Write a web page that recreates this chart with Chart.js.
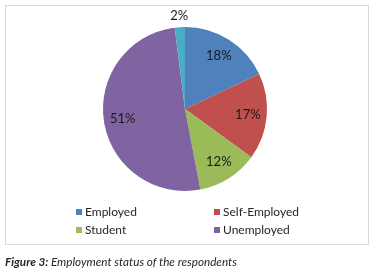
<!DOCTYPE html>
<html>
<head>
<meta charset="utf-8">
<script src="https://cdn.jsdelivr.net/npm/chart.js@4.4.0/dist/chart.umd.min.js"></script>
<style>
  html, body { margin: 0; padding: 0; background: #fff; }
  body { width: 374px; height: 270px; position: relative; overflow: hidden; font-family: Lato, "Open Sans", sans-serif; }
  #frame { position: absolute; left: 5px; top: 5px; width: 362px; height: 238px; border: 1px solid #d9d9d9; }
  #pie { position: absolute; left: 0; top: 0; }
  .leg { position: absolute; font-size: 12px; color: #262626; line-height: 14px; white-space: nowrap; }
  .leg i { display: inline-block; width: 6px; height: 6px; margin-right: 3px; vertical-align: 1px; }
  #caption { position: absolute; left: 5px; top: 254px; font-size: 11.7px; font-style: italic; color: #262626; white-space: nowrap; }
</style>
</head>
<body>
<div id="frame"></div>
<canvas id="pie" width="374" height="270"></canvas>
<div id="legend"></div>
<div id="caption"><b>Figure 3:</b> Employment status of the respondents</div>
<script>
// Data
const categories = ['Employed', 'Self-Employed', 'Student', 'Unemployed', ''];
const values = [18, 17, 12, 51, 2];
const colors = ['#4f81bd', '#c0504d', '#9bbb59', '#8064a2', '#4bacc6'];

// Legend (only the four named categories are listed)
const legendSpots = [[76, 205], [214, 205], [76, 223], [214, 223]];
const legend = document.getElementById('legend');
categories.slice(0, 4).forEach((c, i) => {
  const d = document.createElement('div');
  d.className = 'leg';
  d.style.left = legendSpots[i][0] + 'px';
  d.style.top = legendSpots[i][1] + 'px';
  d.innerHTML = '<i style="background:' + colors[i] + '"></i>' + c;
  legend.appendChild(d);
});

// Percent labels: inside the big slices, outside the tiny one
const pctLabels = {
  id: 'pctLabels',
  afterDatasetsDraw(chart) {
    const ctx = chart.ctx;
    const meta = chart.getDatasetMeta(0);
    ctx.save();
    ctx.font = '13px Lato, "Open Sans", sans-serif';
    ctx.fillStyle = '#1a1a1a';
    ctx.textAlign = 'center';
    ctx.textBaseline = 'middle';
    meta.data.forEach((arc, i) => {
      const mid = (arc.startAngle + arc.endAngle) / 2;
      const r = values[i] < 5 ? arc.outerRadius + 11 : arc.outerRadius * 0.77;
      ctx.fillText(values[i] + '%', arc.x + Math.cos(mid) * r, arc.y + Math.sin(mid) * r);
    });
    ctx.restore();
  }
};

new Chart(document.getElementById('pie').getContext('2d'), {
  type: 'pie',
  data: {
    labels: categories,
    datasets: [{
      data: values,
      backgroundColor: colors,
      borderWidth: 0
    }]
  },
  options: {
    responsive: false,
    animation: false,
    layout: { padding: { left: 103, right: 107, top: 27, bottom: 79 } },
    plugins: {
      legend: { display: false },
      tooltip: { enabled: false }
    }
  },
  plugins: [pctLabels]
});
</script>
</body>
</html>
